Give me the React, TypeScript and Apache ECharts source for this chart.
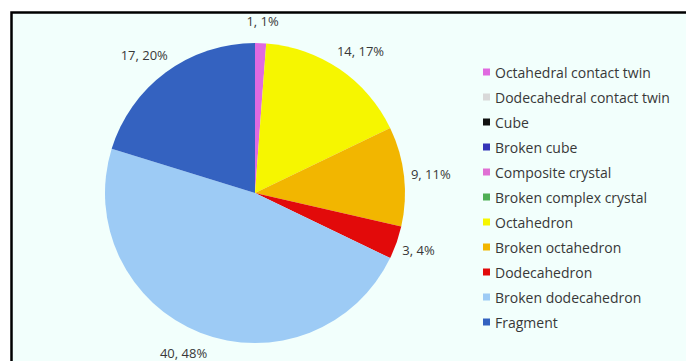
import React, { useEffect, useRef } from "react";
import * as echarts from "echarts";

const categories = [
  "Octahedral contact twin",
  "Dodecahedral contact twin",
  "Cube",
  "Broken cube",
  "Composite crystal",
  "Broken complex crystal",
  "Octahedron",
  "Broken octahedron",
  "Dodecahedron",
  "Broken dodecahedron",
  "Fragment",
];
const counts = [1, 0, 0, 0, 0, 0, 14, 9, 3, 40, 17];
const colors = [
  "#e06ae0",
  "#d9d9d9",
  "#111111",
  "#3535b8",
  "#e070d4",
  "#4faf55",
  "#f6f600",
  "#f2b600",
  "#e20a0a",
  "#9dcbf5",
  "#3462c0",
];

export default function App() {
  const ref = useRef<HTMLDivElement>(null);
  useEffect(() => {
    if (!ref.current) return;
    const chart = echarts.init(ref.current, undefined, { renderer: "svg" });
    const total = counts.reduce((a, b) => a + b, 0);
    const font = "'Open Sans', sans-serif";
    chart.setOption({
      animation: false,
      backgroundColor: "#ffffff",
      graphic: [
        {
          type: "rect",
          z: -10,
          silent: true,
          shape: { x: 11.5, y: 12.5, width: 800, height: 500 },
          style: { fill: "#f2fffc", stroke: "#000000", lineWidth: 2.5 },
        },
      ],
      legend: {
        orient: "vertical",
        left: 478,
        top: 60,
        itemWidth: 7,
        itemHeight: 7,
        itemGap: 11,
        icon: "rect",
        data: categories,
        textStyle: {
          fontFamily: font,
          fontSize: 14,
          color: "#383838",
          lineHeight: 14,
        },
      },
      series: [
        {
          type: "pie",
          center: [255, 193],
          radius: 150,
          startAngle: 90,
          clockwise: true,
          avoidLabelOverlap: false,
          label: {
            show: true,
            position: "outside",
            fontFamily: font,
            fontSize: 13,
            color: "#383838",
            distanceToLabelLine: -15,
            formatter: (p: any) =>
              `${p.value}, ${Math.round((p.value / total) * 100)}%`,
          },
          labelLine: { show: false, length: 22, length2: 0 },
          emphasis: { disabled: true },
          data: categories.map((name, i) => ({
            name,
            value: counts[i],
            itemStyle: { color: colors[i] },
            label: { show: counts[i] > 0 },
            labelLine: { show: false },
          })),
        },
      ],
    });
    return () => chart.dispose();
  }, []);
  return (
    <div
      ref={ref}
      style={{ position: "fixed", left: 0, top: 0, width: 686, height: 361 }}
    />
  );
}
